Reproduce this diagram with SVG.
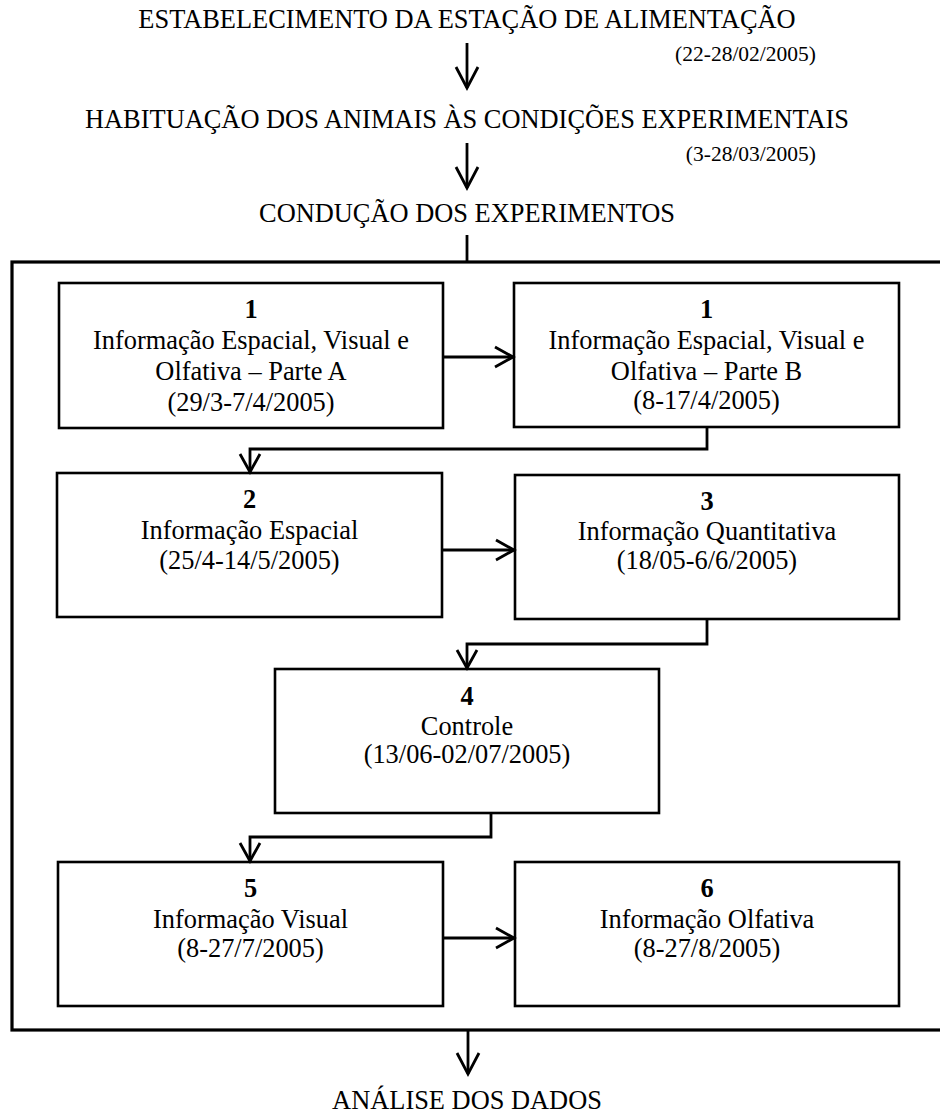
<svg xmlns="http://www.w3.org/2000/svg" width="940" height="1113" viewBox="0 0 940 1113">
<style>
text{font-family:"Liberation Serif","Times New Roman",serif;fill:#000;}
.h{font-size:26.4px;text-anchor:middle;}
.d{font-size:21.5px;text-anchor:end;}
.t{font-size:26.4px;text-anchor:middle;}
.n{font-weight:bold;}
.box{fill:#fff;stroke:#000;stroke-width:2.6;}
.outer{fill:none;stroke:#000;stroke-width:3.2;}
.c{fill:none;stroke:#000;stroke-width:2.8;}
</style>
<defs>
<marker id="ah" viewBox="-24 -13 28 26" markerWidth="28" markerHeight="26" refX="0" refY="0" orient="auto" markerUnits="userSpaceOnUse">
<path d="M-21,-11 L0,0 L-21,11" fill="none" stroke="#000" stroke-width="2.8"/>
</marker>
<marker id="as" viewBox="-22 -13 26 26" markerWidth="26" markerHeight="26" refX="0" refY="0" orient="auto" markerUnits="userSpaceOnUse">
<path d="M-18,-10 L0,0 L-18,10" fill="none" stroke="#000" stroke-width="2.8"/>
</marker>
</defs>
<rect width="940" height="1113" fill="#fff"/>
<g id="step-estabelecimento">
<text class="h" x="467" y="28">ESTABELECIMENTO DA ESTAÇÃO DE ALIMENTAÇÃO</text>
<text class="d" x="816" y="61">(22-28/02/2005)</text>
</g>
<g id="step-habituacao">
<text class="h" x="467" y="128">HABITUAÇÃO DOS ANIMAIS ÀS CONDIÇÕES EXPERIMENTAIS</text>
<text class="d" x="816" y="161">(3-28/03/2005)</text>
</g>
<g id="step-conducao">
<text class="h" x="467" y="222">CONDUÇÃO DOS EXPERIMENTOS</text>
<rect class="outer" x="12" y="262" width="935" height="768"/>
</g>
<g id="box-1a">
<rect class="box" x="59" y="283" width="384" height="145"/>
<text class="t n" x="251" y="318">1</text>
<text class="t" x="251" y="349">Informação Espacial, Visual e</text>
<text class="t" x="251" y="380">Olfativa – Parte A</text>
<text class="t" x="251" y="411">(29/3-7/4/2005)</text>
</g>
<g id="box-1b">
<rect class="box" x="514" y="283" width="385" height="144"/>
<text class="t n" x="706.5" y="318">1</text>
<text class="t" x="706.5" y="349">Informação Espacial, Visual e</text>
<text class="t" x="706.5" y="380">Olfativa – Parte B</text>
<text class="t" x="706.5" y="409">(8-17/4/2005)</text>
</g>
<g id="box-2">
<rect class="box" x="57" y="473" width="385" height="144"/>
<text class="t n" x="249.5" y="508">2</text>
<text class="t" x="249.5" y="539">Informação Espacial</text>
<text class="t" x="249.5" y="569">(25/4-14/5/2005)</text>
</g>
<g id="box-3">
<rect class="box" x="515" y="475" width="384" height="144"/>
<text class="t n" x="707" y="510">3</text>
<text class="t" x="707" y="540">Informação Quantitativa</text>
<text class="t" x="707" y="569">(18/05-6/6/2005)</text>
</g>
<g id="box-4">
<rect class="box" x="275" y="669" width="384" height="144"/>
<text class="t n" x="467" y="705">4</text>
<text class="t" x="467" y="735">Controle</text>
<text class="t" x="467" y="763">(13/06-02/07/2005)</text>
</g>
<g id="box-5">
<rect class="box" x="58" y="862" width="385" height="144"/>
<text class="t n" x="250.5" y="897">5</text>
<text class="t" x="250.5" y="928">Informação Visual</text>
<text class="t" x="250.5" y="957">(8-27/7/2005)</text>
</g>
<g id="box-6">
<rect class="box" x="515" y="862" width="384" height="144"/>
<text class="t n" x="707" y="897">6</text>
<text class="t" x="707" y="928">Informação Olfativa</text>
<text class="t" x="707" y="957">(8-27/8/2005)</text>
</g>
<g id="step-analise">
<text class="h" x="467" y="1109">ANÁLISE DOS DADOS</text>
</g>
<g id="connectors">
<path class="c" d="M467,43 V88" marker-end="url(#ah)"/>
<path class="c" d="M467,143 V188" marker-end="url(#ah)"/>
<path class="c" d="M467,235 V262"/>
<path class="c" d="M443,357 H513" marker-end="url(#as)"/>
<path class="c" d="M707,427 V449 H250 V472" marker-end="url(#as)"/>
<path class="c" d="M442,550 H514" marker-end="url(#as)"/>
<path class="c" d="M707,619 V644 H467 V668" marker-end="url(#as)"/>
<path class="c" d="M491,813 V837 H250 V861" marker-end="url(#as)"/>
<path class="c" d="M443,938 H514" marker-end="url(#as)"/>
<path class="c" d="M468,1030 V1074" marker-end="url(#ah)"/>
</g>
</svg>
